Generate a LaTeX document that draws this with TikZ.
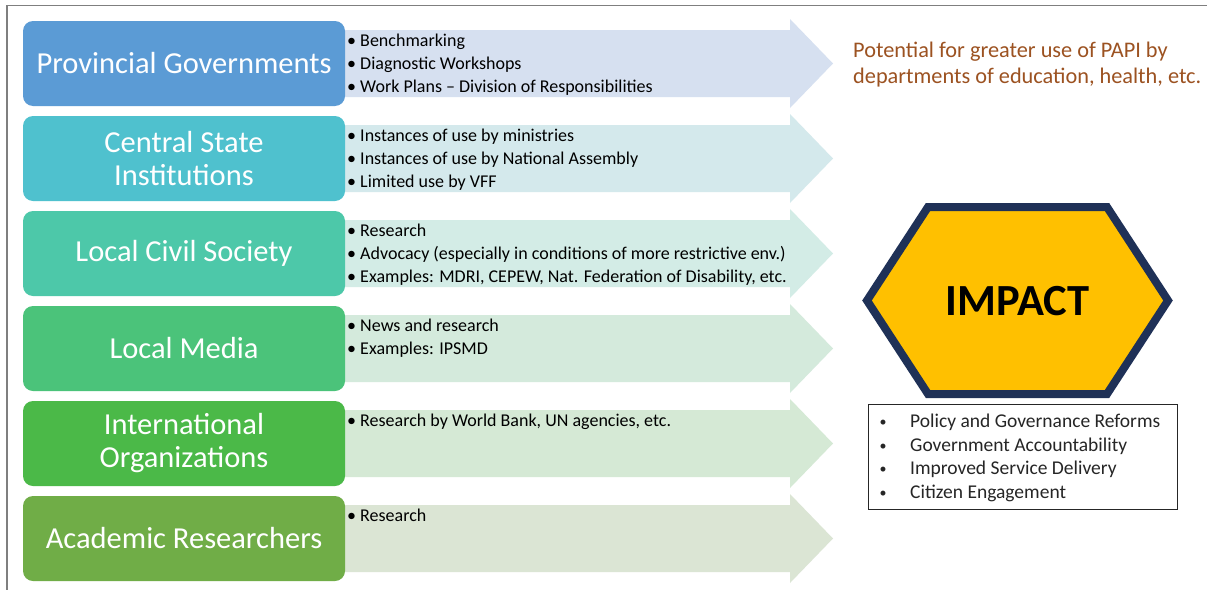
\documentclass[tikz,border=0pt]{standalone}
\usepackage{fontspec}
\setmainfont{Carlito}
\usetikzlibrary{positioning}
\definecolor{frameg}{HTML}{7F7F7F}
\definecolor{bA}{HTML}{5B9BD5}\definecolor{aA}{HTML}{D6E0F0}
\definecolor{bB}{HTML}{4FC1CE}\definecolor{aB}{HTML}{D4E9EC}
\definecolor{bC}{HTML}{4DC8A9}\definecolor{aC}{HTML}{D3ECE6}
\definecolor{bD}{HTML}{4BC37A}\definecolor{aD}{HTML}{D4EADC}
\definecolor{bE}{HTML}{4BB948}\definecolor{aE}{HTML}{D5E9D5}
\definecolor{bF}{HTML}{70AD47}\definecolor{aF}{HTML}{DBE5D4}
\definecolor{navy}{HTML}{1F3157}
\definecolor{gold}{HTML}{FFC000}
\definecolor{brownt}{HTML}{9C5221}
\definecolor{listt}{HTML}{262626}
\tikzset{
  leftbox/.style={draw=none, rounded corners=10pt, minimum width=322pt, minimum height=85pt,
    align=center, text=white, font=\fontsize{30.5}{33}\selectfont, inner sep=0pt},
  bullettext/.style={anchor=base west, align=left, inner sep=0pt, text=black,
    font=\fontsize{18}{23}\selectfont},
  listtext/.style={anchor=base west, align=left, inner sep=0pt, text=listt,
    font=\fontsize{19.5}{23.4}\selectfont},
}
\newcommand{\rowarrow}[2]{%
  \fill[#2] (340,#1+9) -- (790,#1+9) -- (790,#1-2) -- (833,#1+42.5) -- (790,#1+87) -- (790,#1+76) -- (340,#1+76) -- cycle;}
\begin{document}
\begin{tikzpicture}[x=1pt,y=-1pt]
\useasboundingbox (0,0) rectangle (1207,589);
\fill[white] (0,0) rectangle (1207,589);
\draw[frameg, line width=1.2pt] (7,600) -- (7,5.5) -- (1215,5.5);
% arrows
\rowarrow{21}{aA}
\rowarrow{116}{aB}
\rowarrow{211}{aC}
\rowarrow{306}{aD}
\rowarrow{401}{aE}
\rowarrow{496}{aF}
% left boxes
\node[leftbox, fill=bA] (pg) at (184,63.5) {Provincial Governments};
\node[leftbox, fill=bB] (csi) at (184,158.5) {Central State\\Institutions};
\node[leftbox, fill=bC] (lcs) at (184,253.5) {Local Civil Society};
\node[leftbox, fill=bD] (lm) at (184,348.5) {Local Media};
\node[leftbox, fill=bE] (io) at (184,443.5) {International\\Organizations};
\node[leftbox, fill=bF] (ar) at (184,538.5) {Academic Researchers};
% arrow texts (anchor = baseline of last line)
\node[bullettext] (tA) at (347,92) {• Benchmarking\\• Diagnostic Workshops\\• Work Plans – Division of Responsibilities};
\node[bullettext] (tB) at (347,187) {• Instances of use by ministries\\• Instances of use by National Assembly\\• Limited use by VFF};
\node[bullettext] (tC) at (347,282) {• Research\\• Advocacy (especially in conditions of more restrictive env.)\\• Examples: MDRI, CEPEW, Nat. Federation of Disability, etc.};
\node[bullettext] (tD) at (347,354) {• News and research\\• Examples: IPSMD};
\node[bullettext] (tE) at (347,426) {• Research by World Bank, UN agencies, etc.};
\node[bullettext] (tF) at (347,521) {• Research};
% potential
\node[anchor=base west, align=left, inner sep=0pt, text=brownt, font=\fontsize{22.3}{26}\selectfont] (pot) at (853,83) {Potential for greater use of PAPI by\\departments of education, health, etc.};
% hexagon
\draw[navy, line width=8pt, fill=gold, line join=miter] (867,300.5) -- (928,207) -- (1107,207) -- (1168,300.5) -- (1107,394) -- (928,394) -- cycle;
\node[anchor=base, font=\fontsize{44.5}{44.5}\bfseries\selectfont, text=black, inner sep=0pt] (imp) at (1017.5,315) {IMPACT};
% list box
\draw[listt, line width=0.8pt] (868,404.5) rectangle (1177,509);
\node[listtext] (lst) at (910,498) {Policy and Governance Reforms\\Government Accountability\\Improved Service Delivery\\Citizen Engagement};
\node[listtext, font=\fontsize{14}{23.4}\selectfont] (lsb) at (879.5,497) {•\\•\\•\\•};
\end{tikzpicture}
\end{document}
